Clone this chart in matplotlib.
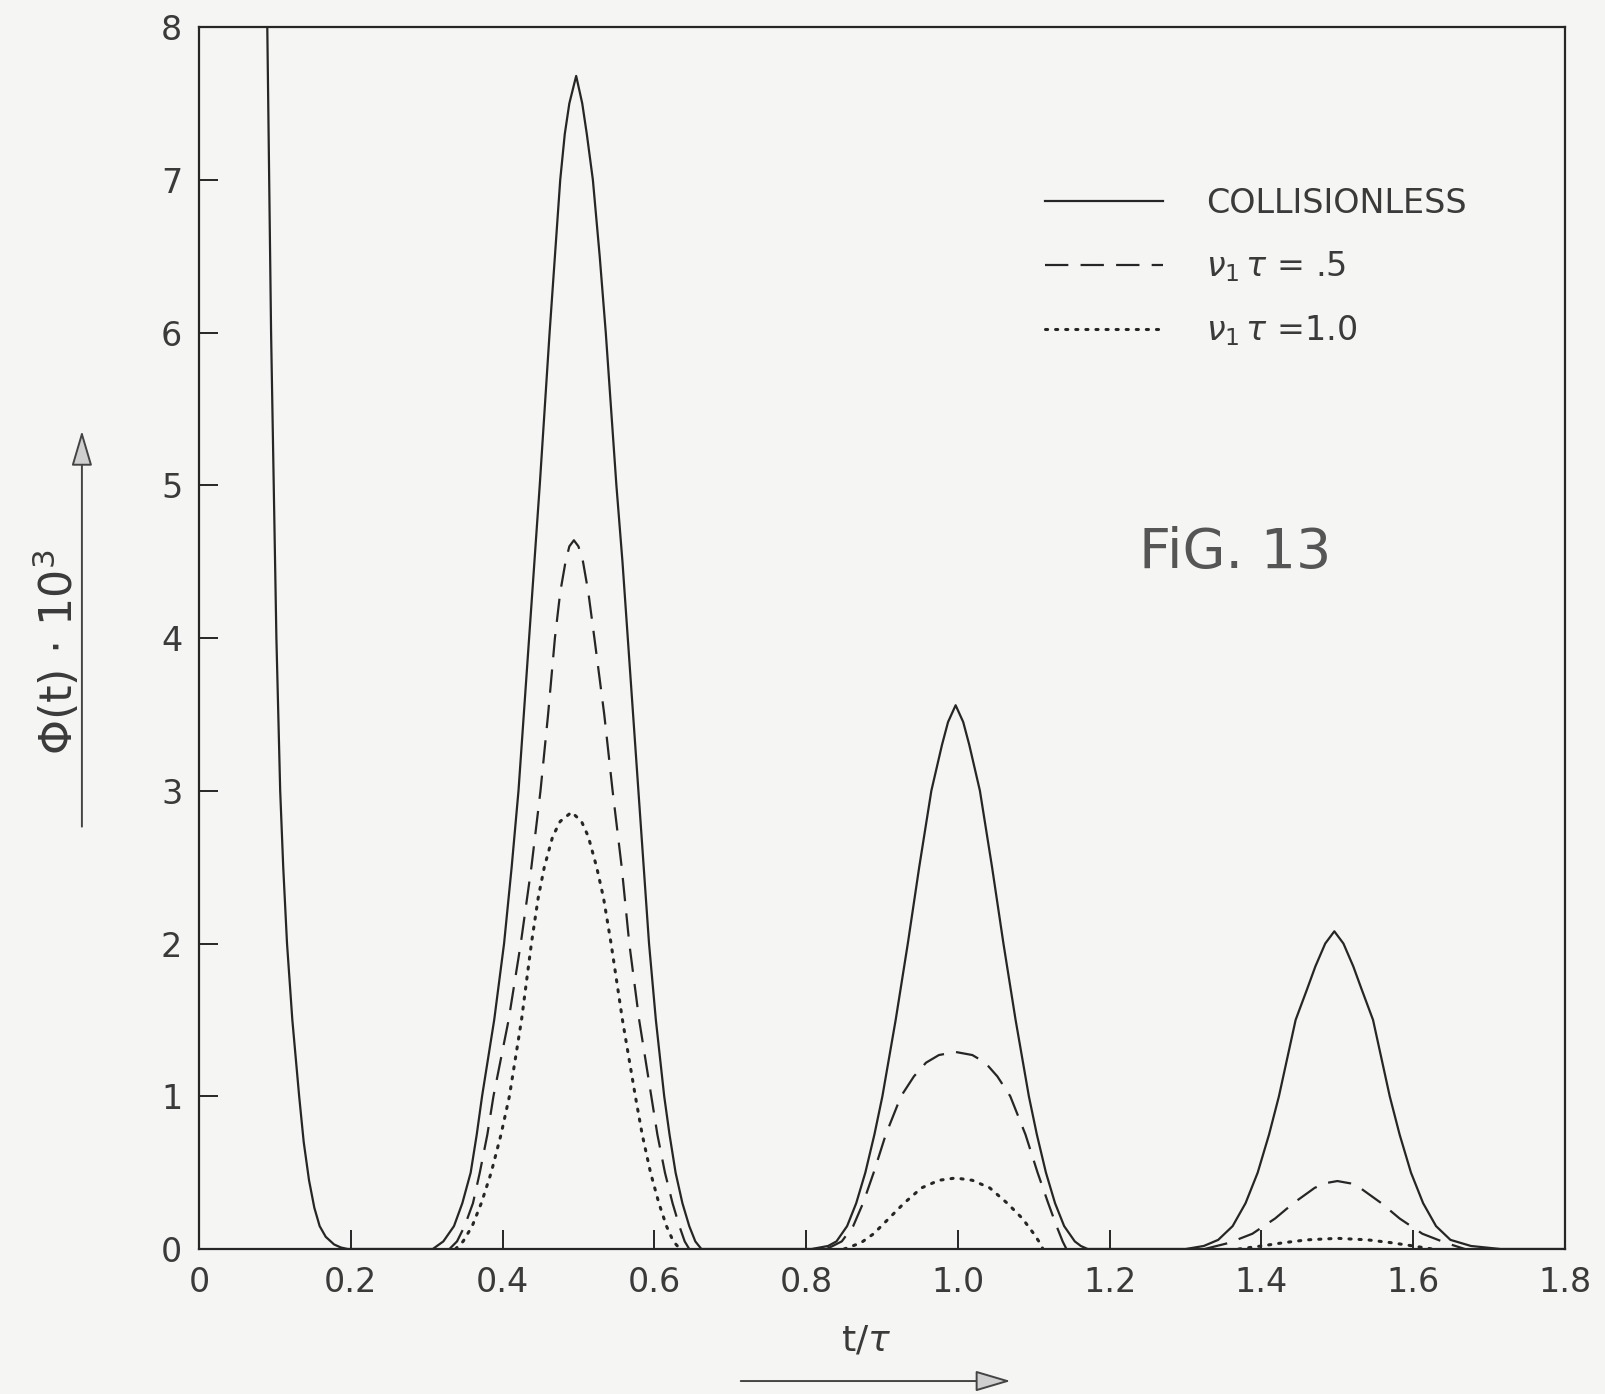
import numpy as np
import matplotlib.pyplot as plt
from matplotlib.patches import FancyArrowPatch

gap = np.nan  # breaks a curve where it lies flat on the axis

# values: t/tau and Phi(t)*10^3
t_coll = [0.088, 0.090, 0.0925, 0.095, 0.0985, 0.102, 0.107, 0.111, 0.116, 0.123, 0.132, 0.138, 0.145,
          0.152, 0.159, 0.167, 0.178, 0.187, 0.196,
          0.308, 0.322, 0.336, 0.347, 0.358, 0.366, 0.373, 0.389, 0.402, 0.412, 0.421, 0.428, 0.435,
          0.442, 0.449, 0.4555, 0.462, 0.469, 0.476, 0.482, 0.488, 0.497,
          0.505, 0.511, 0.519, 0.528, 0.536, 0.543, 0.550, 0.558, 0.565, 0.572, 0.579, 0.586, 0.593,
          0.602, 0.613, 0.620, 0.628, 0.637, 0.646, 0.654, 0.662,
          0.807, 0.829, 0.840, 0.854, 0.866, 0.878, 0.890, 0.9005, 0.918, 0.934, 0.949, 0.965, 0.979,
          0.987, 0.997,
          1.007, 1.015, 1.029, 1.045, 1.060, 1.076, 1.0935, 1.104, 1.116, 1.128, 1.140, 1.154, 1.162, 1.171,
          1.300, 1.324, 1.343, 1.362, 1.379, 1.395, 1.410, 1.423, 1.434, 1.445, 1.460, 1.471, 1.484, 1.496,
          1.508, 1.521, 1.532, 1.547, 1.558, 1.569, 1.582, 1.597, 1.613, 1.630, 1.649, 1.676, 1.715, 1.800]
phi_coll = [8.3, 8.0, 7.0, 6.0, 5.0, 4.0, 3.0, 2.5, 2.0, 1.5, 1.0, 0.7, 0.45,
            0.27, 0.15, 0.08, 0.03, 0.01, 0.0,
            0.0, 0.05, 0.15, 0.3, 0.5, 0.75, 1.0, 1.5, 2.0, 2.5, 3.0, 3.5, 4.0,
            4.5, 5.0, 5.5, 6.0, 6.5, 7.0, 7.3, 7.5, 7.68,
            7.5, 7.3, 7.0, 6.5, 6.0, 5.5, 5.0, 4.5, 4.0, 3.5, 3.0, 2.5, 2.0,
            1.5, 1.0, 0.75, 0.5, 0.3, 0.15, 0.05, 0.0,
            0.0, 0.02, 0.05, 0.15, 0.3, 0.5, 0.75, 1.0, 1.5, 2.0, 2.5, 3.0, 3.3,
            3.45, 3.56,
            3.45, 3.3, 3.0, 2.5, 2.0, 1.5, 1.0, 0.75, 0.5, 0.3, 0.15, 0.05, 0.02, 0.0,
            0.0, 0.02, 0.06, 0.15, 0.3, 0.5, 0.75, 1.0, 1.25, 1.5, 1.7, 1.85, 2.0, 2.08,
            2.0, 1.85, 1.7, 1.5, 1.25, 1.0, 0.75, 0.5, 0.3, 0.15, 0.06, 0.02, 0.0, 0.0]

t_nu05 = [0.330, 0.340, 0.350, 0.361, 0.370, 0.380, 0.388, 0.408, 0.424, 0.438, 0.450, 0.460, 0.469,
          0.476, 0.483, 0.488, 0.494,
          0.500, 0.506, 0.513, 0.521, 0.534, 0.545, 0.557, 0.567, 0.580, 0.596, 0.604, 0.614, 0.624,
          0.633, 0.640, 0.646, gap,
          0.827, 0.847, 0.862, 0.875, 0.889, 0.905, 0.925, 0.942, 0.958, 0.975, 0.997, 1.019, 1.036,
          1.052, 1.069, 1.089, 1.105, 1.119, 1.130, 1.138, 1.143, gap,
          1.325, 1.357, 1.388, 1.418, 1.442, 1.470, 1.483, 1.500, 1.517, 1.530, 1.558, 1.582, 1.612,
          1.643, 1.668]
phi_nu05 = [0.0, 0.05, 0.15, 0.3, 0.5, 0.75, 1.0, 1.5, 2.0, 2.5, 3.0, 3.5, 4.0,
            4.3, 4.5, 4.6, 4.64,
            4.6, 4.5, 4.3, 4.0, 3.5, 3.0, 2.5, 2.0, 1.5, 1.0, 0.75, 0.5, 0.3,
            0.15, 0.05, 0.0, gap,
            0.0, 0.05, 0.15, 0.3, 0.5, 0.75, 1.0, 1.13, 1.22, 1.27, 1.29, 1.27, 1.22,
            1.13, 1.0, 0.75, 0.5, 0.3, 0.15, 0.05, 0.0, gap,
            0.0, 0.04, 0.1, 0.2, 0.3, 0.4, 0.43, 0.445, 0.43, 0.4, 0.3, 0.2, 0.1,
            0.04, 0.0]

t_nu10 = [0.338, 0.348, 0.360, 0.372, 0.385, 0.398, 0.409, 0.425, 0.438, 0.447, 0.455, 0.466, 0.476, 0.491,
          0.504, 0.513, 0.524, 0.533, 0.543, 0.558, 0.575, 0.584, 0.595, 0.606, 0.616, 0.625, 0.634, gap,
          0.850, 0.872, 0.889, 0.909, 0.929, 0.952, 0.975, 0.997, 1.019, 1.042, 1.065, 1.085, 1.100,
          1.108, 1.112, gap,
          1.370, 1.400, 1.430, 1.460, 1.500, 1.540, 1.570, 1.600, 1.625]
phi_nu10 = [0.0, 0.05, 0.15, 0.3, 0.5, 0.75, 1.0, 1.5, 2.0, 2.3, 2.5, 2.7, 2.8, 2.86,
            2.8, 2.7, 2.5, 2.3, 2.0, 1.5, 1.0, 0.75, 0.5, 0.3, 0.15, 0.05, 0.0, gap,
            0.0, 0.04, 0.1, 0.2, 0.3, 0.4, 0.45, 0.465, 0.45, 0.4, 0.3, 0.2, 0.1,
            0.04, 0.0, gap,
            0.0, 0.02, 0.042, 0.06, 0.07, 0.06, 0.042, 0.02, 0.0]

x_ticks = [0, 0.2, 0.4, 0.6, 0.8, 1.0, 1.2, 1.4, 1.6, 1.8]
x_ticklabels = ["0", "0.2", "0.4", "0.6", "0.8", "1.0", "1.2", "1.4", "1.6", "1.8"]
y_ticks = [0, 1, 2, 3, 4, 5, 6, 7, 8]

ink = "#262626"
txt_col = "#3a3a3a"
paper = "#f5f5f3"

plt.rcParams["font.family"] = ["DejaVu Sans"]
fig = plt.figure(figsize=(16.06, 13.94), dpi=100, facecolor=paper)
ax = fig.add_axes([0.1239, 0.104, 0.8506, 0.8766])
ax.set_facecolor(paper)

ax.plot(t_coll, phi_coll, color=ink, lw=1.6, label="COLLISIONLESS")
ax.plot(t_nu05, phi_nu05, color=ink, lw=1.6, dashes=(10.5, 5.5), label=r"$\nu_1\,\tau$ = .5")
ax.plot(t_nu10, phi_nu10, color=ink, lw=2.2, dashes=(0.7, 2.6), dash_capstyle="round",
        label=r"$\nu_1\,\tau$ =1.0")

ax.set_xlim(0, 1.8)
ax.set_ylim(0, 8)
ax.set_xticks(x_ticks)
ax.set_xticklabels(x_ticklabels)
ax.set_yticks(y_ticks)
ax.tick_params(direction="in", length=14, width=1.4, color=ink, labelsize=24,
               labelcolor=txt_col, pad=12)
for s in ax.spines.values():
    s.set_color(ink)
    s.set_linewidth(1.6)

leg = ax.legend(loc="upper left", bbox_to_anchor=(0.619, 0.869), frameon=False,
                fontsize=24, handlelength=3.55, handletextpad=1.3, labelspacing=0.88,
                borderpad=0, borderaxespad=0)
for txt in leg.get_texts():
    txt.set_color(txt_col)

# axis labels with arrows
fig.text(0.035, 0.532, r"$\Phi$(t) $\cdot$ 10$^3$", rotation=90, ha="center", va="center",
         fontsize=32, color=txt_col)
fig.add_artist(FancyArrowPatch(
    (0.051, 0.405), (0.051, 0.693), transform=fig.transFigure,
    arrowstyle="-|>,head_length=2.2,head_width=0.65", mutation_scale=10,
    lw=1.4, ec="#444444", fc="#cfcfcf"))
fig.text(0.539, 0.0387, r"t/$\tau$", ha="center", va="center", fontsize=26, color=txt_col)
fig.add_artist(FancyArrowPatch(
    (0.4595, 0.0093), (0.631, 0.0093), transform=fig.transFigure,
    arrowstyle="-|>,head_length=2.2,head_width=0.65", mutation_scale=10,
    lw=1.4, ec="#444444", fc="#cfcfcf"))

fig.text(0.769, 0.603, "FiG. 13", ha="center", va="center", fontsize=40, color="#555555")

plt.savefig("out.png", dpi=100, facecolor=paper)
plt.close()
